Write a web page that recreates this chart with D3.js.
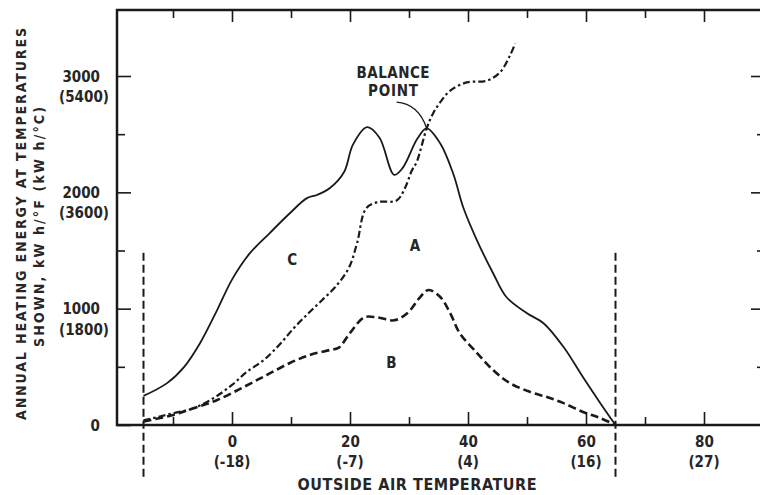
<!DOCTYPE html>
<html>
<head>
<meta charset="utf-8">
<script src="https://cdn.jsdelivr.net/npm/d3@7"></script>
<style>
  body { margin: 0; background: #fff; }
  svg text {
    font-family: "DejaVu Sans Condensed", "Liberation Sans Narrow", "DejaVu Sans", sans-serif;
    font-stretch: condensed;
    font-weight: bold;
    fill: #262626;
  }
</style>
</head>
<body>
<svg id="chart" width="760" height="495"></svg>
<script>
// Outside air temperature (°F) vs annual heating energy (kW h/°F)
const loadCurve = [
  [-15, 250], [-11, 360], [-8.1, 500], [-5.4, 705], [-2.5, 990], [0, 1250],
  [3, 1475], [6.4, 1650], [9.8, 1820], [12.7, 1950], [14.4, 1977], [16.6, 2037],
  [19, 2175], [20.5, 2410], [22.9, 2560], [25, 2470], [27.5, 2150], [29, 2215],
  [31.4, 2460], [33, 2550], [35.3, 2420], [37.5, 2160], [39.2, 1870], [41.5, 1590],
  [44.3, 1300], [46.5, 1100], [50, 960], [52.8, 875], [56.2, 670], [59.5, 410],
  [62.4, 190], [65, 0]
];
const capacityCurve = [
  [-15, 40], [-9.8, 103], [-6.4, 146], [-3.1, 232], [0, 344], [2.5, 456], [5.4, 559],
  [8, 688], [10.5, 834], [13, 963], [15.3, 1075], [17.5, 1186], [19.8, 1350],
  [21.2, 1564], [22.7, 1860], [24.6, 1915], [27.9, 1930], [29.3, 2035],
  [30.5, 2190], [31.3, 2260], [33, 2550], [34.1, 2680], [35.3, 2775], [37, 2875],
  [39.8, 2945], [43.2, 2960], [45.4, 3030], [47.1, 3175], [48, 3280]
];
const supplyCurve = [
  [-15, 30], [-10, 86], [-6.4, 146], [-2.5, 215], [2, 327], [5.9, 430], [9.8, 533],
  [13.2, 602], [16.6, 645], [18.1, 665], [20, 791], [22.4, 925], [24.6, 925],
  [27.5, 900], [29.7, 960], [31.9, 1100], [33.3, 1160], [35.3, 1100], [37, 960],
  [38.6, 790], [41.5, 620], [44.3, 470], [47.1, 360], [50.5, 285], [53.4, 240],
  [56.1, 190], [59.5, 112], [62.4, 60], [65, 0]
];

const xMajor = [0, 20, 40, 60, 80];
const xMinor = [-10, 10, 30, 50, 70];
const xCelsius = ["(-18)", "(-7)", "(4)", "(16)", "(27)"];
const yMajor = [1000, 2000, 3000];
const yMinor = [500, 1500, 2500];
const yMetric = ["(1800)", "(3600)", "(5400)"];
const seasonLimits = [-15, 65];
const balancePoint = [33, 2550];

const svg = d3.select("#chart");
const ink = "#1a1a1a";

// Scales
const x = d3.scaleLinear().domain([0, 80]).range([232, 704]);
const y = d3.scaleLinear().domain([0, 3000]).range([425, 76]);
const frameLeft = 117, frameTop = 10, frameRight = 765, frameBottom = y(0);

// Frame
svg.append("rect")
  .attr("x", frameLeft).attr("y", frameTop)
  .attr("width", frameRight - frameLeft).attr("height", frameBottom - frameTop)
  .attr("fill", "none").attr("stroke", ink).attr("stroke-width", 2.5);

function ticksOnly(g) {
  g.select(".domain").remove();
  g.selectAll(".tick line").attr("stroke", ink).attr("stroke-width", 1.6);
}

// Bottom axis ticks + labels
svg.append("g")
  .attr("transform", `translate(0,${frameBottom})`)
  .call(d3.axisBottom(x).tickValues(xMajor).tickSize(-13).tickFormat(d3.format("d")))
  .call(ticksOnly)
  .call(g => g.selectAll("text").attr("font-size", 15).attr("fill", "#262626").attr("dy", 0).attr("y", 22));
svg.append("g")
  .attr("transform", `translate(0,${frameBottom})`)
  .call(d3.axisBottom(x).tickValues(xMinor).tickSize(-8).tickFormat(""))
  .call(ticksOnly);

svg.selectAll(".c-label")
  .data(xMajor)
  .join("text")
  .attr("x", d => x(d))
  .attr("y", frameBottom + 42)
  .attr("text-anchor", "middle")
  .attr("font-size", 15)
  .text((d, i) => xCelsius[i]);

// Top ticks
svg.append("g")
  .attr("transform", `translate(0,${frameTop})`)
  .call(d3.axisTop(x).tickValues(xMajor).tickSize(-12).tickFormat(""))
  .call(ticksOnly);
svg.append("g")
  .attr("transform", `translate(0,${frameTop})`)
  .call(d3.axisTop(x).tickValues(xMinor).tickSize(-8).tickFormat(""))
  .call(ticksOnly);

// Left axis
svg.append("g")
  .attr("transform", `translate(${frameLeft},0)`)
  .call(d3.axisLeft(y).tickValues([0].concat(yMajor)).tickSize(-14).tickFormat(d3.format("d")))
  .call(ticksOnly)
  .call(g => g.selectAll("text").attr("font-size", 15).attr("fill", "#262626").attr("x", -17).attr("dy", "0.35em"));
svg.append("g")
  .attr("transform", `translate(${frameLeft},0)`)
  .call(d3.axisLeft(y).tickValues(yMinor).tickSize(-8).tickFormat(""))
  .call(ticksOnly);

svg.selectAll(".m-label")
  .data(yMajor)
  .join("text")
  .attr("x", frameLeft - 33)
  .attr("y", d => y(d) + 26)
  .attr("text-anchor", "middle")
  .attr("font-size", 15)
  .text((d, i) => yMetric[i]);

// Right axis ticks
svg.append("g")
  .attr("transform", `translate(${frameRight},0)`)
  .call(d3.axisRight(y).tickValues(yMajor).tickSize(-14).tickFormat(""))
  .call(ticksOnly);
svg.append("g")
  .attr("transform", `translate(${frameRight},0)`)
  .call(d3.axisRight(y).tickValues(yMinor).tickSize(-8).tickFormat(""))
  .call(ticksOnly);

// Axis titles
svg.append("text")
  .attr("x", 417)
  .attr("y", 490)
  .attr("text-anchor", "middle")
  .attr("font-size", 16)
  .attr("textLength", 239)
  .attr("lengthAdjust", "spacing")
  .text("OUTSIDE AIR TEMPERATURE");

svg.append("text")
  .attr("transform", "translate(26,224) rotate(-90)")
  .attr("text-anchor", "middle")
  .attr("font-size", 14)
  .attr("textLength", 392)
  .attr("lengthAdjust", "spacing")
  .text("ANNUAL HEATING ENERGY AT TEMPERATURES");
svg.append("text")
  .attr("transform", "translate(44,227) rotate(-90)")
  .attr("text-anchor", "middle")
  .attr("font-size", 14)
  .attr("textLength", 240)
  .attr("lengthAdjust", "spacing")
  .text("SHOWN, kW h/°F (kW h/°C)");

// Heating season limits
svg.selectAll(".limit")
  .data(seasonLimits)
  .join("line")
  .attr("x1", d => x(d)).attr("x2", d => x(d))
  .attr("y1", y(1480)).attr("y2", frameBottom + 55)
  .attr("stroke", ink).attr("stroke-width", 2)
  .attr("stroke-dasharray", "8,4");

// Curves
const line = d3.line()
  .x(d => x(d[0]))
  .y(d => y(d[1]))
  .curve(d3.curveCatmullRom.alpha(0.5));

svg.append("path")
  .datum(loadCurve)
  .attr("fill", "none").attr("stroke", ink).attr("stroke-width", 1.8)
  .attr("d", line);

svg.append("path")
  .datum(capacityCurve)
  .attr("fill", "none").attr("stroke", ink).attr("stroke-width", 2.2)
  .attr("stroke-dasharray", "7,3,2.5,3")
  .attr("d", line);

svg.append("path")
  .datum(supplyCurve)
  .attr("fill", "none").attr("stroke", ink).attr("stroke-width", 2.6)
  .attr("stroke-dasharray", "8,4")
  .attr("d", line);

// Region labels
const regions = [
  { text: "C", t: 10.2, v: 1430 },
  { text: "A", t: 31, v: 1545 },
  { text: "B", t: 27, v: 540 }
];
svg.selectAll(".region")
  .data(regions)
  .join("text")
  .attr("x", d => x(d.t))
  .attr("y", d => y(d.v) + 6)
  .attr("text-anchor", "middle")
  .attr("font-size", 15)
  .text(d => d.text);

// Balance point annotation
svg.append("text")
  .attr("x", x(27.3)).attr("y", 78)
  .attr("text-anchor", "middle").attr("font-size", 15)
  .attr("textLength", 73).attr("lengthAdjust", "spacing")
  .text("BALANCE");
svg.append("text")
  .attr("x", x(27.3)).attr("y", 96)
  .attr("text-anchor", "middle").attr("font-size", 15)
  .attr("textLength", 50).attr("lengthAdjust", "spacing")
  .text("POINT");

const lp = d3.path();
lp.moveTo(x(27.9), y(2775));
lp.quadraticCurveTo(x(31.6), y(2760), x(balancePoint[0]), y(balancePoint[1]));
svg.append("path")
  .attr("d", lp.toString())
  .attr("fill", "none").attr("stroke", ink).attr("stroke-width", 1.4);
</script>
</body>
</html>
